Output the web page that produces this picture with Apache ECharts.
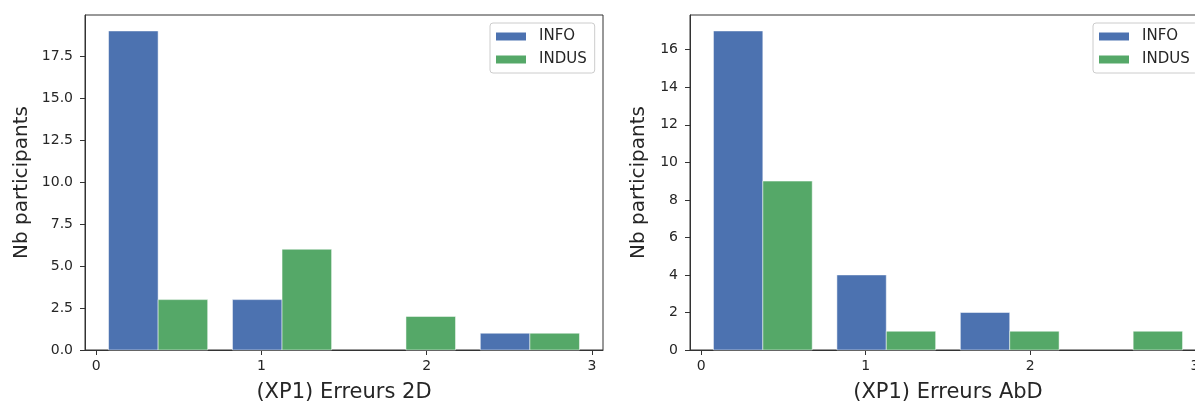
<!DOCTYPE html>
<html><head><meta charset="utf-8">
<script src="https://cdn.jsdelivr.net/npm/echarts@6/dist/echarts.min.js"></script>
<style>html,body{margin:0;padding:0;background:#fff}#c{width:1195px;height:403px}</style>
</head><body><div id="c"></div>
<script>
// ---- data ----
const binEdges = [0, 0.75, 1.5, 2.25, 3];
const seriesNames = ['INFO', 'INDUS'];
const info2D = [19, 3, 0, 1];
const indus2D = [3, 6, 2, 1];
const infoAbD = [17, 4, 2, 0];
const indusAbD = [9, 1, 1, 1];
const xTicks = [0, 1, 2, 3];
const yTicks2D = [0, 2.5, 5, 7.5, 10, 12.5, 15, 17.5];
const yTicksAbD = [0, 2, 4, 6, 8, 10, 12, 14, 16];
const xTitles = ['(XP1) Erreurs 2D', '(XP1) Erreurs AbD'];
const yTitle = 'Nb participants';

// ---- style / layout ----
const COLORS = ['#4C72B0', '#55A868'];
const FONT = 'DejaVu Sans';
const TXT = '#262626';
const AX = '#333333';
const FILL_FRAC = 0.8;   // matplotlib hist bar fill of a bin

function histData(counts, k, n) {
  return counts.map((c, i) => {
    const w = binEdges[i + 1] - binEdges[i];
    const start = binEdges[i] + w * (1 - FILL_FRAC) / 2;
    const bw = w * FILL_FRAC / n;
    return [start + bw * k, start + bw * (k + 1), c];
  });
}
function xRange() {
  const w = binEdges[1] - binEdges[0];
  const lo = binEdges[0] + w * (1 - FILL_FRAC) / 2;
  const hi = binEdges[binEdges.length - 1] - w * (1 - FILL_FRAC) / 2;
  const m = (hi - lo) * 0.05;
  return [lo - m, hi + m];
}
function renderBar(params, api) {
  const y = api.value(2);
  if (!y) return null;
  const p0 = api.coord([api.value(0), 0]);
  const p1 = api.coord([api.value(1), y]);
  return {
    type: 'rect',
    shape: { x: p0[0], y: p1[1], width: p1[0] - p0[0], height: p0[1] - p1[1] },
    style: { fill: COLORS[params.seriesIndex % 2], stroke: '#ffffff', lineWidth: 0.5 }
  };
}

const [xmin, xmax] = xRange();
const grids = [
  { left: 85, top: 15, width: 518, height: 335 },
  { left: 690, top: 15, width: 516, height: 335 }
];
const yMax = [Math.max(...info2D, ...indus2D) * 1.05, Math.max(...infoAbD, ...indusAbD) * 1.05];
const yTicks = [yTicks2D, yTicksAbD];
const yFmt = [v => v.toFixed(1), v => String(v)];
const yGap = [53, 41];

const option = {
  backgroundColor: '#ffffff',
  animation: false,
  textStyle: { fontFamily: FONT },
  grid: grids.map(g => Object.assign({
    show: true, borderColor: AX, borderWidth: 1, backgroundColor: 'transparent',
    containLabel: false, outerBoundsMode: 'none'
  }, g)),
  xAxis: [0, 1].map(i => ({
    type: 'value', gridIndex: i, min: xmin, max: xmax,
    name: xTitles[i], nameLocation: 'middle', nameGap: 32,
    nameTextStyle: { fontSize: 21, color: TXT, fontFamily: FONT },
    axisLine: { show: true, onZero: false, lineStyle: { color: AX, width: 1 } },
    axisTick: { show: true, length: 5, lineStyle: { color: AX }, customValues: xTicks },
    axisLabel: { fontSize: 14, color: TXT, fontFamily: FONT, margin: 9, customValues: xTicks },
    splitLine: { show: false }
  })),
  yAxis: [0, 1].map(i => ({
    type: 'value', gridIndex: i, min: 0, max: yMax[i],
    name: yTitle, nameLocation: 'middle', nameGap: yGap[i],
    nameTextStyle: { fontSize: 20, color: TXT, fontFamily: FONT },
    axisLine: { show: true, onZero: false, lineStyle: { color: AX, width: 1 } },
    axisTick: { show: true, length: 5, lineStyle: { color: AX }, customValues: yTicks[i] },
    axisLabel: { fontSize: 14, color: TXT, fontFamily: FONT, margin: 12, customValues: yTicks[i], formatter: yFmt[i] },
    splitLine: { show: false }
  })),
  legend: [490, 1093].map(l => ({
    left: l, top: 23, orient: 'vertical', data: seriesNames,
    icon: 'rect', itemWidth: 30, itemHeight: 8, itemGap: 8,
    padding: [6, 8, 6, 6], borderColor: '#cccccc', borderWidth: 1, borderRadius: 3,
    backgroundColor: 'rgba(255,255,255,0.8)',
    textStyle: { fontSize: 15, color: TXT, fontFamily: FONT, padding: [0, 0, 0, 8] }
  })),
  series: [
    [info2D, 0, 0], [indus2D, 1, 0], [infoAbD, 0, 1], [indusAbD, 1, 1]
  ].map(([counts, k, g]) => ({
    type: 'custom', name: seriesNames[k], xAxisIndex: g, yAxisIndex: g,
    itemStyle: { color: COLORS[k] },
    encode: { x: [0, 1], y: 2 },
    renderItem: renderBar,
    data: histData(counts, k, 2)
  }))
};
const chart = echarts.init(document.getElementById('c'), null, { renderer: 'canvas' });
chart.setOption(option);
</script>
</body></html>
